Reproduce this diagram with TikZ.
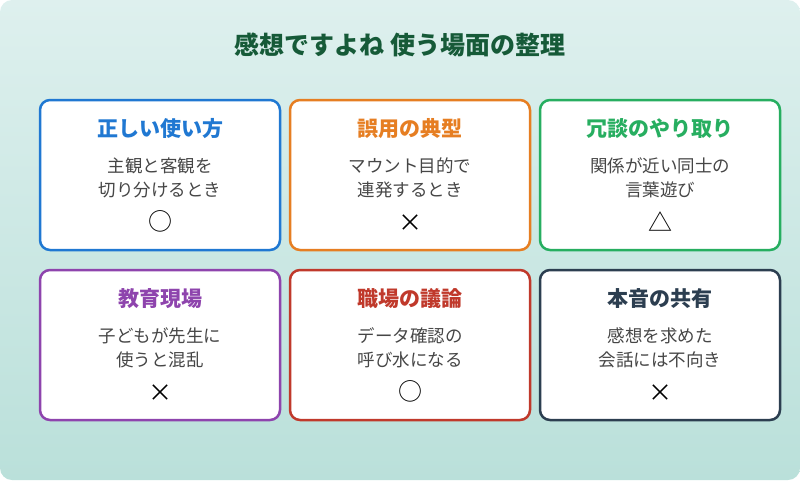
\documentclass[tikz,border=0pt]{standalone}
\usepackage{fontspec}
\setmainfont{Noto Sans CJK JP}
\usetikzlibrary{positioning}
\definecolor{bgtop}{RGB}{222,240,238}
\definecolor{bgbot}{RGB}{186,224,218}
\definecolor{titlegreen}{RGB}{22,90,56}
\definecolor{cblue}{RGB}{32,120,210}
\definecolor{corange}{RGB}{230,126,34}
\definecolor{cgreen}{RGB}{39,174,96}
\definecolor{cpurple}{RGB}{142,68,173}
\definecolor{cred}{RGB}{192,57,43}
\definecolor{cdark}{RGB}{44,62,80}
\definecolor{bodygray}{RGB}{70,70,70}
\tikzset{
  card/.style={draw=#1,fill=white,line width=2.5pt,rounded corners=10pt,minimum width=240pt,minimum height=150pt},
  cardhead/.style={text=#1,font=\fontsize{21}{24}\selectfont\bfseries},
  cardbody/.style={text=bodygray,font=\fontsize{17.5}{24}\selectfont,align=center},
  cardmark/.style={text=black,font=\fontsize{24}{26}\selectfont}
}
\newcommand{\usecard}[6]{%
  \node[card=#4] (#1) at (#2,#3) {};
  \node[cardhead=#4] (#1head) at ([yshift=-30pt]#1.north) {#5};
  \node[cardbody] (#1body) at ([yshift=-79pt]#1.north) {#6};
}
\begin{document}
\begin{tikzpicture}[x=1pt,y=-1pt]
    \useasboundingbox (0,0) rectangle (800,480);
    % 背景
    \shade[top color=bgtop,bottom color=bgbot,rounded corners=12pt] (0,0) rectangle (800,480);
    % タイトル
    \node[text=titlegreen,font=\fontsize{25}{28}\selectfont\bfseries] (title) at (400,45) {感想ですよね\ 使う場面の整理};
    % カード
    \usecard{correct}{160}{175}{cblue}{正しい使い方}{主観と客観を\\切り分けるとき}
    \usecard{misuse}{410}{175}{corange}{誤用の典型}{マウント目的で\\連発するとき}
    \usecard{joke}{660}{175}{cgreen}{冗談のやり取り}{関係が近い同士の\\言葉遊び}
    \usecard{school}{160}{345}{cpurple}{教育現場}{子どもが先生に\\使うと混乱}
    \usecard{work}{410}{345}{cred}{職場の議論}{データ確認の\\呼び水になる}
    \usecard{honest}{660}{345}{cdark}{本音の共有}{感想を求めた\\会話には不向き}
    % 記号
    \node[cardmark] (correctmark) at ([yshift=-123pt]correct.north) {○};
    \node[cardmark] (misusemark) at ([yshift=-124pt]misuse.north) {×};
    \node[cardmark] (jokemark) at ([yshift=-123pt]joke.north) {△};
    \node[cardmark] (schoolmark) at ([yshift=-124pt]school.north) {×};
    \node[cardmark] (workmark) at ([yshift=-123pt]work.north) {○};
    \node[cardmark] (honestmark) at ([yshift=-124pt]honest.north) {×};
\end{tikzpicture}
\end{document}
